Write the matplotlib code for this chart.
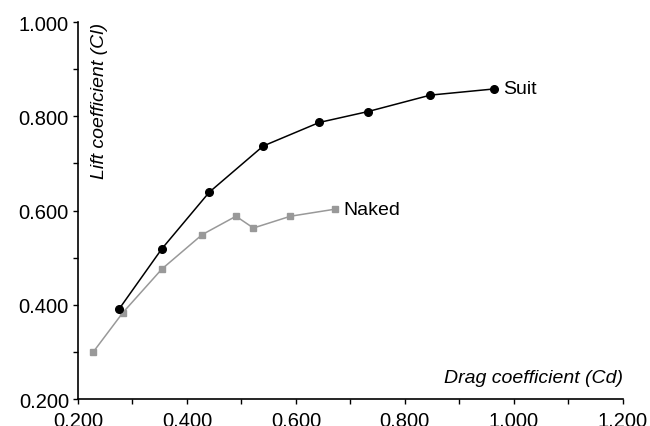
import matplotlib.pyplot as plt
from matplotlib.ticker import MultipleLocator, FormatStrFormatter

plt.rcParams['font.family'] = ['Liberation Sans', 'DejaVu Sans']

# suit data (drag, lift)
suit_cd = [0.276, 0.354, 0.441, 0.540, 0.643, 0.732, 0.847, 0.963]
suit_cl = [0.392, 0.519, 0.639, 0.737, 0.787, 0.810, 0.845, 0.858]

# naked data
naked_cd = [0.228, 0.282, 0.354, 0.428, 0.490, 0.522, 0.590, 0.672]
naked_cl = [0.300, 0.383, 0.476, 0.549, 0.588, 0.563, 0.588, 0.603]

fig = plt.figure(figsize=(6.5, 4.27), dpi=100)
ax = fig.add_axes([0.12, 0.063, 0.838, 0.883])

ax.plot(naked_cd, naked_cl, color='#999999', lw=1.1, marker='s', ms=4.5,
        mec='#999999', mfc='#999999')
ax.plot(suit_cd, suit_cl, color='black', lw=1.1, marker='o', ms=5.5,
        mec='black', mfc='black')

ax.annotate('Suit', (suit_cd[-1], suit_cl[-1]), xytext=(7, 0),
            textcoords='offset points', va='center', fontsize=14)
ax.annotate('Naked', (naked_cd[-1], naked_cl[-1]), xytext=(6, 0),
            textcoords='offset points', va='center', fontsize=14)

ax.set_xlim(0.2, 1.2)
ax.set_ylim(0.2, 1.0)
ax.xaxis.set_major_locator(MultipleLocator(0.2))
ax.xaxis.set_minor_locator(MultipleLocator(0.1))
ax.yaxis.set_major_locator(MultipleLocator(0.2))
ax.yaxis.set_minor_locator(MultipleLocator(0.1))
ax.xaxis.set_major_formatter(FormatStrFormatter('%.3f'))
ax.yaxis.set_major_formatter(FormatStrFormatter('%.3f'))
ax.tick_params(which='both', direction='out', length=3.5, width=1, labelsize=14.5)
ax.tick_params(axis='x', pad=5)
ax.tick_params(axis='y', pad=3)

for s in ['top', 'right']:
    ax.spines[s].set_visible(False)
for s in ['left', 'bottom']:
    ax.spines[s].set_linewidth(1.2)

ax.text(0.04, 1.0, 'Lift coefficient (Cl)', transform=ax.transAxes, rotation=90,
        ha='center', va='top', fontsize=14, style='italic')
ax.text(1.0, 0.035, 'Drag coefficient (Cd)', transform=ax.transAxes,
        ha='right', va='bottom', fontsize=14, style='italic')

fig.savefig('out.png', dpi=100)
